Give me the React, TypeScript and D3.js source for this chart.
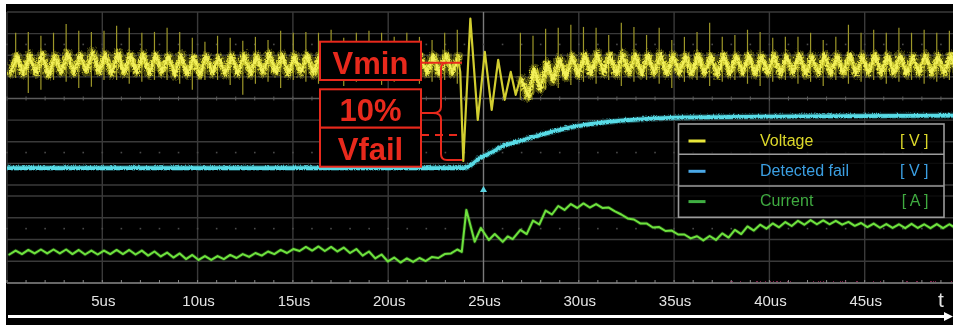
import React from 'react';
import * as d3 from 'd3';

const WIDTH = 953;
const HEIGHT = 325;

// Time axis (µs)
const timeTicks = [5, 10, 15, 20, 25, 30, 35, 40, 45];
const timeTickLabels = ['5us', '10us', '15us', '20us', '25us', '30us', '35us', '40us', '45us'];

// Switching ripple timing
const CYCLE_US = 0.662;
const FIRST_CREST_US = 0.455;
const PRE_CYCLES = 36; // cycles 0..35 before the dip
const POST_FIRST_CYCLE = 40; // cycles 40..74 after the ringing

// Voltage [V], cycles 0..35: crest, valley (half a cycle before crest), switching spike extremes
const preCrestV = [6.02, 6.06, 6.11, 6.02, 6.16, 6.06, 6.2, 6.11, 6.16, 6.06, 6.11, 6.06, 6.02, 6.06, 5.97, 6.02, 5.97, 6.02, 6.06, 6.02, 6.11, 6.06, 6.02, 6.06, 6.02, 6.06, 6.11, 6.02, 6.06, 6.02, 6.06, 6.02, 5.97, 6.02, 6.06, 6.02];
const preValleyV = [5.23, 5.19, 5.23, 5.14, 5.28, 5.23, 5.32, 5.28, 5.19, 5.23, 5.28, 5.19, 5.23, 5.14, 5.19, 5.14, 5.23, 5.19, 5.23, 5.19, 5.23, 5.28, 5.19, 5.23, 5.19, 5.23, 5.23, 5.19, 5.23, 5.14, 5.19, 5.23, 5.19, 5.23, 5.19, 5.23];
const preSpikeHiV = [7.04, 7.08, 6.9, 7.04, 7.45, 7.13, 7.08, 7.13, 7.36, 7.27, 7.04, 7.08, 7.27, 7.08, 6.81, 6.62, 6.9, 6.81, 6.67, 6.85, 6.71, 7.13, 7.04, 7.08, 7.04, 7.18, 6.81, 7.04, 7.13, 7.04, 6.85, 7.04, 6.85, 6.71, 7.04, 7.18];
const preSpikeLoV = [4.95, 4.26, 4.4, 4.86, 4.77, 4.49, 4.54, 4.86, 4.86, 4.68, 4.77, 4.86, 4.86, 4.68, 4.4, 4.86, 4.86, 4.63, 4.17, 4.68, 4.77, 4.49, 4.86, 4.77, 4.68, 4.86, 4.58, 4.77, 4.86, 4.63, 4.77, 4.86, 4.68, 4.77, 4.86, 4.68];

// Voltage dip and ringing [µs, V]
const dipTimes = [23.78, 23.94, 24.31, 24.7, 25.07, 25.43, 25.77, 26.11, 26.43, 26.69];
const dipVolts = [5.23, 1.11, 7.69, 3.01, 6.16, 3.47, 5.79, 3.94, 5.23, 4.17];

// Voltage [V], cycles 40..74: crest, valley (half a cycle after crest), spike extremes
const postCrestV = [4.95, 5.42, 5.69, 5.88, 6.02, 6.06, 6.11, 6.06, 6.11, 6.06, 6.06, 6.11, 6.06, 6.02, 6.06, 6.02, 6.06, 6.02, 6.06, 6.02, 6.06, 6.02, 6.06, 6.02, 6.06, 6.02, 6.06, 6.02, 6.06, 6.02, 6.06, 6.02, 6.06, 6.02, 6.06];
const postValleyV = [4.12, 4.49, 4.86, 5.05, 5.14, 5.19, 5.23, 5.19, 5.23, 5.19, 5.23, 5.19, 5.23, 5.19, 5.23, 5.14, 5.19, 5.23, 5.19, 5.23, 5.19, 5.23, 5.19, 5.23, 5.19, 5.23, 5.19, 5.23, 5.19, 5.23, 5.19, 5.23, 5.19, 5.23, 5.19];
const postSpikeHiV = [7.04, 6.9, 7.22, 7.27, 7.41, 7.31, 7.27, 6.94, 7.5, 7.31, 6.94, 7.27, 6.71, 6.85, 7.08, 7.5, 6.85, 6.94, 7.18, 7.08, 6.81, 6.85, 6.85, 7.04, 6.71, 6.85, 7.41, 7.04, 7.18, 7.04, 7.27, 7.04, 7.18, 7.04, 7.13];
const postSpikeLoV = [3.94, 4.17, 4.4, 4.49, 4.63, 4.77, 4.68, 4.86, 4.58, 4.77, 4.86, 4.68, 4.49, 4.77, 4.86, 4.58, 4.77, 4.86, 4.68, 4.58, 4.77, 4.86, 4.68, 4.77, 4.58, 4.86, 4.68, 4.77, 4.86, 4.68, 4.77, 4.86, 4.68, 4.77, 4.86];

// Detected fail [µs, V]
const failTimes = [0, 23.95, 24.8, 25.33, 26.01, 26.9, 27.95, 29.68, 31.46, 33.19, 35.81, 41.58, 50];
const failVolts = [0.83, 0.83, 1.3, 1.53, 1.85, 2.08, 2.36, 2.73, 2.96, 3.08, 3.17, 3.22, 3.26];

// Current [A], cycles 0..35: crest and preceding valley
const preCrestA = [1.49, 1.52, 1.54, 1.54, 1.54, 1.52, 1.49, 1.49, 1.52, 1.52, 1.49, 1.45, 1.4, 1.36, 1.29, 1.24, 1.24, 1.29, 1.33, 1.38, 1.45, 1.52, 1.56, 1.66, 1.68, 1.66, 1.63, 1.56, 1.45, 1.31, 1.17, 1.13, 1.15, 1.2, 1.33, 1.54];
const preValleyA = [1.31, 1.33, 1.36, 1.36, 1.36, 1.33, 1.31, 1.31, 1.33, 1.33, 1.31, 1.26, 1.22, 1.17, 1.1, 1.06, 1.06, 1.1, 1.15, 1.2, 1.26, 1.33, 1.38, 1.47, 1.49, 1.47, 1.45, 1.38, 1.26, 1.13, 0.99, 0.94, 0.97, 1.01, 1.15, 1.36];

// Current step response [µs, A]
const stepTimes = [23.86, 24.1, 24.54, 24.86, 25.28, 25.59, 26.01, 26.27, 26.53];
const stepAmps = [1.43, 3.36, 1.9, 2.53, 1.98, 2.25, 1.89, 2.14, 2.02];

// Current [A], cycles 40..74: crest and following valley
const postCrestA = [2.44, 2.87, 3.33, 3.54, 3.63, 3.66, 3.63, 3.47, 3.15, 2.92, 2.74, 2.57, 2.41, 2.23, 2.15, 2.16, 2.28, 2.44, 2.6, 2.68, 2.74, 2.8, 2.86, 2.89, 2.88, 2.86, 2.81, 2.76, 2.73, 2.71, 2.7, 2.72, 2.7, 2.71, 2.7];
const postValleyA = [2.25, 2.69, 3.15, 3.36, 3.45, 3.47, 3.45, 3.29, 2.97, 2.74, 2.55, 2.39, 2.23, 2.05, 1.96, 1.98, 2.09, 2.25, 2.41, 2.5, 2.56, 2.62, 2.68, 2.7, 2.7, 2.68, 2.63, 2.57, 2.54, 2.53, 2.52, 2.53, 2.52, 2.52, 2.52];

// Auxiliary channel near the floor of the current panel [µs, A]
const auxTimes = [37.9, 50];
const auxAmps = [0.05, 0.06];

// Annotation levels [V]
const VMIN_LEVEL = 5.65;
const VFAIL_LEVEL = 2.31;
const DIP_LEVEL = 1.16;

// Legend rows
const legendNames = ['Voltage', 'Detected fail', 'Current'];
const legendUnits = ['[ V ]', '[ V ]', '[ A ]'];
const legendSwatch = ['#e9e73a', '#4aa8e6', '#3fae42'];
const legendText = ['#dcd82a', '#3b9fe2', '#3faa40'];

const crestTime = (k: number) => FIRST_CREST_US + k * CYCLE_US;

export default function App() {
  const x = d3.scaleLinear().domain([0, 50]).range([7, 960]);
  const yV = d3.scaleLinear().domain([0, 8]).range([185, 12]);
  const yA = d3.scaleLinear().domain([0, 4]).range([283, 196]);

  const lineV = d3.line<[number, number]>().x(d => x(d[0])).y(d => yV(d[1]));
  const lineA = d3.line<[number, number]>().x(d => x(d[0])).y(d => yA(d[1]));
  const lineFail = d3
    .line<[number, number]>()
    .x(d => x(d[0]))
    .y(d => yV(d[1]))
    .curve(d3.curveMonotoneX);

  // Voltage band segments
  const preBand: [number, number][] = [];
  preCrestV.forEach((c, k) => {
    preBand.push([crestTime(k) - CYCLE_US / 2, preValleyV[k]]);
    preBand.push([crestTime(k), c]);
  });
  const dipPts: [number, number][] = [[crestTime(PRE_CYCLES - 1), preCrestV[PRE_CYCLES - 1]]];
  dipTimes.forEach((t, i) => dipPts.push([t, dipVolts[i]]));
  dipPts.push([crestTime(POST_FIRST_CYCLE), postCrestV[0]]);
  const postBand: [number, number][] = [];
  postCrestV.forEach((c, i) => {
    const k = POST_FIRST_CYCLE + i;
    postBand.push([crestTime(k), c]);
    postBand.push([crestTime(k) + CYCLE_US / 2, postValleyV[i]]);
  });

  const spikes: { t: number; hi: number; lo: number }[] = [];
  preSpikeHiV.forEach((hi, k) => spikes.push({ t: crestTime(k), hi, lo: preSpikeLoV[k] }));
  postSpikeHiV.forEach((hi, i) =>
    spikes.push({ t: crestTime(POST_FIRST_CYCLE + i), hi, lo: postSpikeLoV[i] })
  );

  // Current trace
  const currentPts: [number, number][] = [];
  preCrestA.forEach((c, k) => {
    currentPts.push([crestTime(k) - CYCLE_US / 2, preValleyA[k]]);
    currentPts.push([crestTime(k), c]);
  });
  stepTimes.forEach((t, i) => currentPts.push([t, stepAmps[i]]));
  postCrestA.forEach((c, i) => {
    const k = POST_FIRST_CYCLE + i;
    currentPts.push([crestTime(k), c]);
    currentPts.push([crestTime(k) + CYCLE_US / 2, postValleyA[i]]);
  });

  const failPts: [number, number][] = failTimes.map((t, i) => [t, failVolts[i]]);
  const auxPts: [number, number][] = auxTimes.map((t, i) => [t, auxAmps[i]]);

  const minorTicks = d3.range(0, 51, 1);
  const xLeft = x(0);
  const xRight = x(50);

  const red = '#e8291c';
  const boxX = 320;
  const boxW = 101;
  const boxCx = boxX + boxW / 2;
  const braceX = 441;
  const yMin = yV(VMIN_LEVEL);
  const yFail = yV(VFAIL_LEVEL);
  const yDip = yV(DIP_LEVEL);
  const yMid = 113;

  return (
    <svg
      width={WIDTH}
      height={HEIGHT}
      style={{ position: 'absolute', left: 0, top: 0, display: 'block' }}
      fontFamily="'Liberation Sans', Arial, sans-serif"
    >
      <defs>
        <clipPath id="plot-area">
          <rect x={xLeft} y={12} width={WIDTH - xLeft} height={271} />
        </clipPath>
        {/* acquisition noise texture for the sampled traces */}
        <filter id="trace-noise" x="-2%" y="-40%" width="104%" height="180%">
          <feTurbulence type="turbulence" baseFrequency="0.45 0.25" numOctaves={2} seed={4} result="n" />
          <feDisplacementMap in="SourceGraphic" in2="n" scale={5} xChannelSelector="R" yChannelSelector="G" />
        </filter>
        <filter id="trace-noise-fine" x="-2%" y="-40%" width="104%" height="180%">
          <feTurbulence type="turbulence" baseFrequency="0.6 0.4" numOctaves={1} seed={9} result="n" />
          <feDisplacementMap in="SourceGraphic" in2="n" scale={2.2} xChannelSelector="R" yChannelSelector="G" />
        </filter>
      </defs>
      <rect x={0} y={0} width={WIDTH} height={HEIGHT} fill="#ffffff" />
      <rect x={6} y={4} width={WIDTH - 6} height={HEIGHT - 4} fill="#000000" />

      {/* grid */}
      <g>
        {d3.range(0, 9).map(i => (
          <line key={`hv${i}`} x1={xLeft} x2={xRight} y1={yV(i)} y2={yV(i)}
            stroke={i === 4 ? '#5c5c5c' : '#3a3a3a'} strokeWidth={1.4} />
        ))}
        {d3.range(0, 5).map(i => (
          <line key={`ha${i}`} x1={xLeft} x2={xRight} y1={yA(i)} y2={yA(i)}
            stroke={i === 0 ? '#8a8a8a' : '#3a3a3a'} strokeWidth={1.4} />
        ))}
        {d3.range(0, 11).map(i => (
          <line key={`v${i}`} x1={x(i * 5)} x2={x(i * 5)} y1={12} y2={283}
            stroke={i === 5 ? '#7a7a7a' : '#3a3a3a'} strokeWidth={1.4} />
        ))}
        {minorTicks.map(t => (
          <g key={`mt${t}`}>
            <line x1={x(t)} x2={x(t)} y1={yV(4) - 2} y2={yV(4) + 2} stroke="#5c5c5c" strokeWidth={1} />
            <line x1={x(t)} x2={x(t)} y1={yA(0) - 3} y2={yA(0)} stroke="#8a8a8a" strokeWidth={1} />
            <rect x={x(t) - 0.8} y={yV(6.5) - 0.8} width={1.6} height={1.6} fill="#4a4a4a" />
            <rect x={x(t) - 0.8} y={yV(1.5) - 0.8} width={1.6} height={1.6} fill="#4a4a4a" />
            <rect x={x(t) - 0.8} y={yA(2.5) - 0.8} width={1.6} height={1.6} fill="#4a4a4a" />
          </g>
        ))}
      </g>

      <g clipPath="url(#plot-area)" fill="none" strokeLinejoin="round" strokeLinecap="round">
        {/* auxiliary channel */}
        <path d={lineA(auxPts) ?? ''} stroke="#a0285c" strokeWidth={1.6} opacity={0.8} filter="url(#trace-noise-fine)" />

        {/* detected fail */}
        <g filter="url(#trace-noise-fine)">
          <path d={lineFail(failPts) ?? ''} stroke="#3fb8c4" strokeWidth={6} opacity={0.35} />
          <path d={lineFail(failPts) ?? ''} stroke="#58dbe6" strokeWidth={3.8} />
        </g>

        {/* voltage switching spikes */}
        {spikes.map((s, i) => (
          <line key={`sp${i}`} x1={x(s.t)} x2={x(s.t)} y1={yV(s.hi)} y2={yV(s.lo)}
            stroke="#9d9729" strokeWidth={1.2} strokeLinecap="butt" />
        ))}
        {/* voltage ripple band */}
        <g filter="url(#trace-noise)">
          {[preBand, postBand].map((seg, i) => (
            <g key={`band${i}`}>
              <path d={lineV(seg) ?? ''} stroke="#c9c52c" strokeWidth={10} opacity={0.35} />
              <path d={lineV(seg) ?? ''} stroke="#dedb34" strokeWidth={5.5} opacity={0.85} />
              <path d={lineV(seg) ?? ''} stroke="#f2f05a" strokeWidth={2.5} />
            </g>
          ))}
        </g>
        <path d={lineV(dipPts) ?? ''} stroke="#d2ce30" strokeWidth={2.2} />

        {/* current */}
        <path d={lineA(currentPts) ?? ''} stroke="#4cc02e" strokeWidth={3.6} opacity={0.3} />
        <path d={lineA(currentPts) ?? ''} stroke="#6fe23e" strokeWidth={2} />
      </g>

      {/* trigger marker */}
      <path
        d={`M${x(25) - 3.5},192 L${x(25) + 3.5},192 L${x(25)},186 Z`}
        fill="#5ad2e0"
      />

      {/* annotation */}
      <g>
        <rect x={boxX} y={41.7} width={boxW} height={38.3} fill="#000" stroke={red} strokeWidth={2} />
        <rect x={boxX} y={89.3} width={boxW} height={38.4} fill="#000" stroke={red} strokeWidth={2} />
        <rect x={boxX} y={127.7} width={boxW} height={39} fill="#000" stroke={red} strokeWidth={2} />
        <text x={boxCx} y={73.5} textAnchor="middle" fill={red} fontSize={31} fontWeight="bold">Vmin</text>
        <text x={boxCx} y={120.5} textAnchor="middle" fill={red} fontSize={31} fontWeight="bold">10%</text>
        <text x={boxCx} y={159.5} textAnchor="middle" fill={red} fontSize={31} fontWeight="bold">Vfail</text>
        <g fill="none" stroke={red} strokeWidth={2}>
          <line x1={boxX + boxW} x2={462} y1={yMin} y2={yMin} />
          <line x1={boxX + boxW} x2={457} y1={yFail} y2={yFail} strokeDasharray="8 6" />
          <path
            d={`M${braceX + 6},${yMin} Q${braceX},${yMin} ${braceX},${yMin + 6} V${yMid - 6} Q${braceX},${yMid} ${braceX - 8},${yMid} H${boxX + boxW}`}
          />
          <path
            d={`M${boxX + boxW + 12},${yMid} Q${braceX},${yMid} ${braceX},${yMid + 6} V${yDip - 6} Q${braceX},${yDip} ${braceX + 6},${yDip} H462`}
          />
        </g>
      </g>

      {/* legend */}
      <g>
        <rect x={678.5} y={124} width={265.5} height={93.3} fill="#000" fillOpacity={0.78}
          stroke="#9c9c9c" strokeWidth={1.6} />
        <line x1={678.5} x2={944} y1={154.3} y2={154.3} stroke="#9c9c9c" strokeWidth={1.6} />
        <line x1={678.5} x2={944} y1={186} y2={186} stroke="#9c9c9c" strokeWidth={1.6} />
        {legendNames.map((name, i) => {
          const cy = 139.5 + i * 30.3;
          return (
            <g key={name}>
              <line x1={688.5} x2={705.5} y1={cy + 1.5} y2={cy + 1.5} stroke={legendSwatch[i]} strokeWidth={3} />
              <text x={760} y={cy + 6} fontSize={16} fill={legendText[i]}>{name}</text>
              <text x={928.5} y={cy + 6} fontSize={16} fill={legendText[i]} textAnchor="end">{legendUnits[i]}</text>
            </g>
          );
        })}
      </g>

      {/* time axis */}
      <g>
        {timeTicks.map((t, i) => (
          <text key={t} x={x(t) + 1} y={306} textAnchor="middle" fontSize={15} fill="#e4e4e4">
            {timeTickLabels[i]}
          </text>
        ))}
        <text x={941} y={307} textAnchor="middle" fontSize={21} fill="#e4e4e4">t</text>
        <line x1={8} x2={946} y1={316.5} y2={316.5} stroke="#ffffff" strokeWidth={3} />
        <path d="M944,312 L953,316.5 L944,321 Z" fill="#ffffff" />
      </g>
    </svg>
  );
}
